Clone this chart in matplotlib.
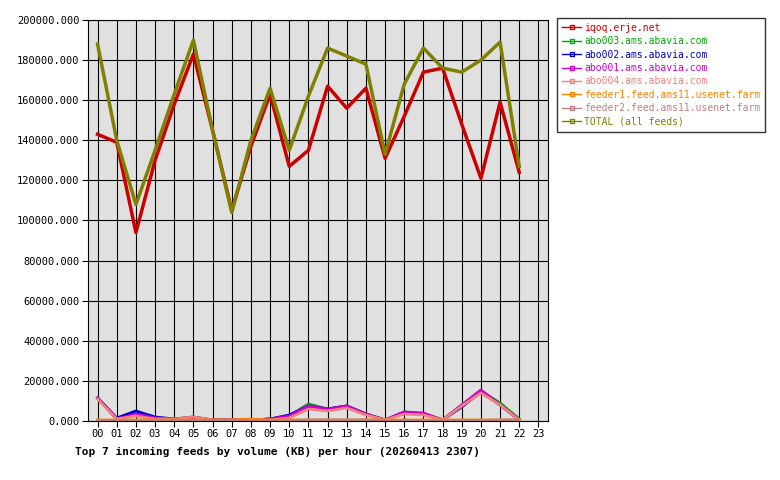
import matplotlib
matplotlib.use("Agg")
import matplotlib.pyplot as plt

hours = list(range(23))
xlabels = ["%02d" % h for h in range(24)]
iqoq = [143000,139000,94000,130000,158000,183000,145000,105000,137000,163000,127000,135000,167000,156000,166000,131000,152000,174000,176000,148000,121000,159000,124000]
abo003 = [11500,1000,4000,1500,1000,2000,500,500,500,1000,2500,8500,6000,7500,3500,500,4000,3500,500,8000,15000,9000,1000]
abo002 = [11500,1500,5000,2000,1000,1500,500,500,500,1000,3000,7500,6000,7500,3500,500,4500,3500,500,7000,14500,8000,500]
abo001 = [11500,1000,3500,1500,1000,2000,500,500,500,1000,2500,7500,6000,7500,3500,500,4500,4000,500,8000,15500,8000,500]
abo004 = [11000,1000,2500,1000,1000,2000,500,500,500,500,1500,6000,5000,6500,3000,500,3500,3000,500,7500,14000,8000,500]
feeder1 = [500,500,500,500,500,500,500,500,1000,500,500,500,500,500,500,500,500,500,500,500,500,500,500]
feeder2 = [300,300,300,300,300,300,300,300,300,300,300,500,500,500,500,300,300,300,300,300,300,500,500]
total = [188000,140000,108000,135000,163000,190000,145000,104000,140000,166000,135000,162000,186000,182000,178000,133000,168000,186000,176000,174000,180000,189000,127000]

series = [("iqoq.erje.net", iqoq, "#cc0000"),
          ("abo003.ams.abavia.com", abo003, "#00aa00"),
          ("abo002.ams.abavia.com", abo002, "#0000cc"),
          ("abo001.ams.abavia.com", abo001, "#cc00cc"),
          ("abo004.ams.abavia.com", abo004, "#f08080"),
          ("feeder1.feed.ams11.usenet.farm", feeder1, "#ff8000"),
          ("feeder2.feed.ams11.usenet.farm", feeder2, "#c08080"),
          ("TOTAL (all feeds)", total, "#808000")]

plt.rcParams['font.family'] = ['DejaVu Sans Mono']
fig = plt.figure(figsize=(7.8, 4.8), dpi=100)
ax = fig.add_axes([88/780, 1-421/480, 460/780, 401/480])
ax.set_facecolor("#e0e0e0")
handles = []
for name, vals, col in series:
    lw = 2.5 if name in ("iqoq.erje.net", "TOTAL (all feeds)") else 2
    ax.plot(hours, vals, color=col, lw=lw)
    h, = ax.plot([], [], color=col, lw=1, marker="s", ms=2.5, mfc="none", mec=col)
    handles.append((h, name, col))
ax.set_xlim(-0.5, 23.5)
ax.set_ylim(0, 200000)
ax.set_xticks(range(24))
ax.set_xticklabels(xlabels, fontsize=7.5)
ax.set_yticks(range(0, 200001, 20000))
ax.set_yticklabels(["%d.000" % v for v in range(0, 200001, 20000)], fontsize=7.5)
ax.grid(True, color="black", lw=0.8)
ax.set_axisbelow(True)
ax.tick_params(length=4, pad=2)
fig.text(75/780, 1-452/480, "Top 7 incoming feeds by volume (KB) per hour (20260413 2307)",
         fontsize=8, fontweight="bold", va="center")
leg = ax.legend([h for h, _, _ in handles], [n for _, n, _ in handles],
                loc="upper left", bbox_to_anchor=(557/780, 1-18/480), bbox_transform=fig.transFigure,
                prop={"size": 7}, frameon=True, fancybox=False, edgecolor="black",
                handlelength=2.0, borderpad=0.5, labelspacing=0.35, handletextpad=0.3,
                borderaxespad=0)
for t, (_, _, c) in zip(leg.get_texts(), handles):
    t.set_color(c)
fig.savefig("out.png", dpi=100)
